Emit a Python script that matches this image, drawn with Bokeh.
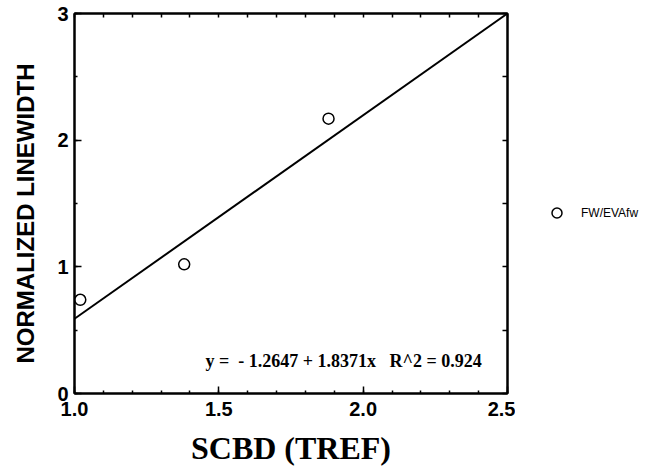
from bokeh.plotting import figure
from bokeh.layouts import row
from bokeh.models import (LinearAxis, Label, Legend, LegendItem, Range1d,
                          SingleIntervalTicker, FixedTicker, ColumnDataSource)
from bokeh.embed import file_html
from bokeh.resources import INLINE

# ---- data ----
scbd = [1.02, 1.38, 1.88]
linewidth = [0.74, 1.02, 2.17]
fit_x = [1.0, 2.5]
fit_y = [0.59, 3.0]
x_tick_vals = [1.0, 1.5, 2.0, 2.5]
x_tick_labels = ["1.0", "1.5", "2.0", "2.5"]
y_tick_vals = [0, 1, 2, 3]
y_tick_labels = ["0", "1", "2", "3"]
x_mirror_ticks = [1.0, 1.1, 1.2, 1.3, 1.4, 1.5, 1.6, 1.7, 1.8, 1.9,
                  2.0, 2.1, 2.2, 2.3, 2.4, 2.5]
y_mirror_ticks = [0, 0.5, 1, 1.5, 2, 2.5, 3]
series_name = "FW/EVAfw"
equation = "y =\u00a0 - 1.2647 + 1.8371x\u00a0\u00a0 R^2 = 0.924"

marker_style = dict(marker="circle", size=11, fill_color="white",
                    line_color="black", line_width=1.5)

p = figure(width=515, height=470, x_range=Range1d(1.0, 2.5), y_range=Range1d(0, 3),
           output_backend="svg", toolbar_location=None,
           x_axis_location=None, y_axis_location=None,
           min_border_left=74, min_border_right=8, min_border_top=13, min_border_bottom=77)
p.grid.visible = False
p.outline_line_color = "black"
p.outline_line_width = 2
p.background_fill_color = "white"
p.border_fill_color = "white"


def style(ax):
    ax.axis_line_width = 2
    ax.axis_line_color = "black"
    ax.major_tick_in = 7
    ax.major_tick_out = 0
    ax.minor_tick_in = 3
    ax.minor_tick_out = 0
    ax.major_tick_line_width = 1.5
    ax.minor_tick_line_width = 1.5
    ax.major_tick_line_color = "black"
    ax.minor_tick_line_color = "black"
    ax.major_label_text_font = "Liberation Sans"
    ax.major_label_text_font_style = "bold"
    ax.major_label_text_color = "black"
    ax.major_label_text_font_size = "20px"


xb = LinearAxis(ticker=SingleIntervalTicker(interval=0.5, num_minor_ticks=5),
                axis_label="SCBD (TREF)")
style(xb)
xb.major_label_overrides = {v: s for v, s in zip(x_tick_vals, x_tick_labels)}
xb.major_label_standoff = 8
xb.axis_label_text_font = "Liberation Serif"
xb.axis_label_text_font_style = "bold"
xb.axis_label_text_font_size = "32px"
xb.axis_label_text_color = "black"
xb.axis_label_standoff = 11
p.add_layout(xb, "below")

yl = LinearAxis(ticker=SingleIntervalTicker(interval=1, num_minor_ticks=2),
                axis_label="NORMALIZED LINEWIDTH\u00a0\u00a0\u00a0")
style(yl)
yl.major_label_overrides = {v: s for v, s in zip(y_tick_vals, y_tick_labels)}
yl.major_label_standoff = 6
yl.axis_label_text_font = "Liberation Sans"
yl.axis_label_text_font_style = "bold"
yl.axis_label_text_font_size = "24px"
yl.axis_label_text_color = "black"
yl.axis_label_standoff = 15
p.add_layout(yl, "left")

# mirrored tick marks on top and right (no labels)
xa = LinearAxis(ticker=FixedTicker(ticks=[], minor_ticks=x_mirror_ticks))
style(xa)
xa.minor_tick_in = 4
xa.major_label_standoff = 0
p.add_layout(xa, "above")

yr = LinearAxis(ticker=FixedTicker(ticks=[], minor_ticks=y_mirror_ticks))
style(yr)
yr.minor_tick_in = 5
yr.major_label_standoff = 0
p.add_layout(yr, "right")

p.line(fit_x, fit_y, line_color="black", line_width=2)
src = ColumnDataSource(dict(x=scbd, y=linewidth))
pts = p.scatter("x", "y", source=src, **marker_style)

p.add_layout(Label(x=1.454, y=0.253, text=equation, text_font="Liberation Serif",
                   text_font_style="bold", text_font_size="18px", text_color="black",
                   text_baseline="alphabetic", text_align="left"))

# ---- legend panel (separate small figure to the right; frames are aligned) ----
p2 = figure(width=138, height=470, x_range=Range1d(0, 1), y_range=Range1d(0, 1),
            output_backend="svg", toolbar_location=None,
            x_axis_location=None, y_axis_location=None,
            min_border_left=0, min_border_right=0, min_border_top=0, min_border_bottom=0)
p2.grid.visible = False
p2.outline_line_color = None
p2.background_fill_color = "white"
p2.border_fill_color = "white"
# hidden proxy renderer that only supplies the legend glyph
leg_r = p2.scatter("x", "y", source=src, visible=False, **marker_style)

legend = Legend(items=[LegendItem(label=series_name, renderers=[leg_r], index=0)],
                location=(29, 168), glyph_width=25, glyph_height=25,
                padding=0, margin=0, label_standoff=12,
                label_text_font="Liberation Sans", label_text_font_size="12px",
                label_text_color="black", border_line_alpha=0, background_fill_alpha=0,
                inactive_fill_alpha=0)
p2.add_layout(legend, "center")

layout = row(p, p2, spacing=0)
open("out.html", "w").write(file_html(layout, INLINE))
